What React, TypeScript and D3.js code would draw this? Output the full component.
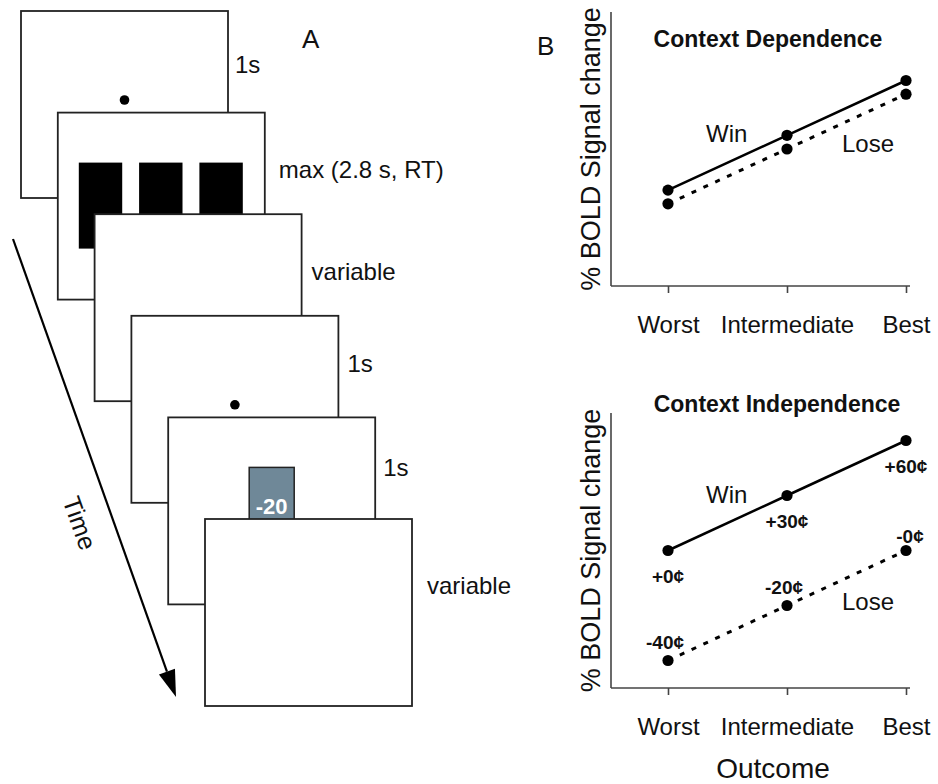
import React, { useEffect, useRef } from 'react';
import * as d3 from 'd3';

// panel A: the trial sequence
const screenDurations = ["1s", "max (2.8 s, RT)", "variable", "1s", "1s", "variable"];
const screenContents = ["fixation", "choice", "blank", "fixation", "outcome", "blank"];
const choiceBoxes = [0, 1, 2];
const outcomeValue = "-20";

// panel B: BOLD response by outcome
const categories = ["Worst", "Intermediate", "Best"];
const dependenceWin = [0.35, 0.55, 0.75];
const dependenceLose = [0.30, 0.50, 0.70];
const independenceWin = [0.50, 0.70, 0.90];
const independenceLose = [0.10, 0.30, 0.50];
const winAmounts = ["+0¢", "+30¢", "+60¢"];
const loseAmounts = ["-40¢", "-20¢", "-0¢"];

// label placement next to each screen (dx from right edge, dy from top)
const durationOffsets = [[7, 62], [14, 65], [10, 66], [9, 56], [8, 59], [15, 75]];

const FONT = "'Liberation Sans', Arial, Helvetica, sans-serif";

const App = () => {
    const svgRef = useRef<SVGSVGElement>(null);

    useEffect(() => {
        const width = 938;
        const height = 784;

        d3.select(svgRef.current).selectAll("*").remove();

        const svg = d3.select(svgRef.current)
            .attr("width", width)
            .attr("height", height)
            .attr("viewBox", `0 0 ${width} ${height}`)
            .style("font-family", FONT);

        svg.append("rect").attr("width", width).attr("height", height).attr("fill", "#fff");

        // ---------- Panel A ----------
        const screenW = 207;
        const screenH = 187;
        const sx = d3.scaleLinear().domain([0, screenDurations.length - 1]).range([21, 205]);
        const sy = d3.scaleLinear().domain([0, screenDurations.length - 1]).range([11, 519]);
        const boxX = d3.scaleBand<number>().domain(choiceBoxes).range([21, 185]).paddingInner(0.28);

        screenDurations.forEach((label, i) => {
            const g = svg.append("g").attr("transform", `translate(${sx(i)},${sy(i)})`);
            g.append("rect")
                .attr("width", screenW)
                .attr("height", screenH)
                .attr("fill", "#fff")
                .attr("stroke", "#222")
                .attr("stroke-width", 1.8);

            const kind = screenContents[i];
            if (kind === "fixation") {
                g.append("circle").attr("cx", screenW / 2).attr("cy", 89).attr("r", 4.8).attr("fill", "#000");
            } else if (kind === "choice") {
                choiceBoxes.forEach(b => {
                    g.append("rect")
                        .attr("x", boxX(b)!)
                        .attr("y", 50)
                        .attr("width", boxX.bandwidth())
                        .attr("height", 86)
                        .attr("fill", "#000");
                });
            } else if (kind === "outcome") {
                g.append("rect")
                    .attr("x", 81)
                    .attr("y", 50)
                    .attr("width", 45)
                    .attr("height", 80)
                    .attr("fill", "#6f8898")
                    .attr("stroke", "#222")
                    .attr("stroke-width", 1.5);
                g.append("text")
                    .attr("x", 103.5)
                    .attr("y", 97)
                    .attr("text-anchor", "middle")
                    .attr("fill", "#fff")
                    .attr("font-weight", "bold")
                    .attr("font-size", 22)
                    .text(outcomeValue);
            }

            const [dx, dy] = durationOffsets[i];
            svg.append("text")
                .attr("x", sx(i) + screenW + dx)
                .attr("y", sy(i) + dy)
                .attr("font-size", 24)
                .attr("fill", "#111")
                .text(label);
        });

        // time arrow
        const start: [number, number] = [13, 239];
        const tip: [number, number] = [176, 697];
        const ang = Math.atan2(tip[1] - start[1], tip[0] - start[0]);
        const headLen = 27;
        const headHalf = 8.5;
        const base: [number, number] = [tip[0] - headLen * Math.cos(ang), tip[1] - headLen * Math.sin(ang)];
        svg.append("line")
            .attr("x1", start[0]).attr("y1", start[1])
            .attr("x2", base[0]).attr("y2", base[1])
            .attr("stroke", "#000")
            .attr("stroke-width", 2.2);
        const nx = -Math.sin(ang);
        const ny = Math.cos(ang);
        svg.append("path")
            .attr("d", d3.line()([
                tip,
                [base[0] + nx * headHalf, base[1] + ny * headHalf],
                [base[0] - nx * headHalf, base[1] - ny * headHalf],
            ]) + "Z")
            .attr("fill", "#000");
        svg.append("text")
            .attr("transform", `translate(80,523) rotate(${(ang * 180) / Math.PI})`)
            .attr("y", 9)
            .attr("text-anchor", "middle")
            .attr("font-size", 25)
            .attr("fill", "#111")
            .text("Time");

        svg.append("text").attr("x", 302).attr("y", 48).attr("font-size", 26).attr("fill", "#111").text("A");
        svg.append("text").attr("x", 537).attr("y", 55).attr("font-size", 26).attr("fill", "#111").text("B");

        // ---------- Panel B ----------
        const xLeft = 611;
        const xRight = 910;
        const x = d3.scalePoint<string>().domain(categories).range([668, 906]);

        const drawPanel = (
            top: number,
            bottom: number,
            title: string,
            titleX: number,
            titleY: number,
            win: number[],
            lose: number[],
            labelPos: { win: [number, number]; lose: [number, number] },
            amounts?: { win: string[]; lose: string[] }
        ) => {
            const y = d3.scaleLinear().domain([0, 1]).range([bottom, top]);
            const g = svg.append("g");

            g.append("line")
                .attr("x1", xLeft).attr("x2", xLeft)
                .attr("y1", top).attr("y2", bottom)
                .attr("stroke", "#444").attr("stroke-width", 1.6);
            g.append("line")
                .attr("x1", xLeft).attr("x2", xRight)
                .attr("y1", bottom).attr("y2", bottom)
                .attr("stroke", "#444").attr("stroke-width", 1.6);

            const axis = g.append("g")
                .attr("transform", `translate(0,${bottom})`)
                .call(d3.axisBottom(x).tickSize(7).tickPadding(23).tickSizeOuter(0));
            axis.select(".domain").remove();
            axis.attr("font-size", 24).attr("font-family", FONT);
            axis.selectAll(".tick line").attr("stroke", "#444").attr("stroke-width", 1.6);
            axis.selectAll(".tick text").attr("fill", "#111");

            g.append("text")
                .attr("transform", `translate(600,${(top + bottom) / 2}) rotate(-90)`)
                .attr("text-anchor", "middle")
                .attr("font-size", 27)
                .attr("fill", "#111")
                .text("% BOLD Signal change");

            g.append("text")
                .attr("x", titleX)
                .attr("y", titleY)
                .attr("text-anchor", "middle")
                .attr("font-weight", "bold")
                .attr("font-size", 23)
                .attr("fill", "#111")
                .text(title);

            const line = d3.line<number>()
                .x((_, i) => x(categories[i])!)
                .y(d => y(d));

            g.append("path")
                .attr("d", line(lose))
                .attr("fill", "none")
                .attr("stroke", "#000")
                .attr("stroke-width", 3)
                .attr("stroke-dasharray", "5,8");
            g.append("path")
                .attr("d", line(win))
                .attr("fill", "none")
                .attr("stroke", "#000")
                .attr("stroke-width", 2.5);

            [...win, ...lose].forEach((v, k) => {
                g.append("circle")
                    .attr("cx", x(categories[k % categories.length])!)
                    .attr("cy", y(v))
                    .attr("r", 5.6)
                    .attr("fill", "#000");
            });

            g.append("text").attr("x", labelPos.win[0]).attr("y", labelPos.win[1])
                .attr("font-size", 24).attr("fill", "#111").text("Win");
            g.append("text").attr("x", labelPos.lose[0]).attr("y", labelPos.lose[1])
                .attr("font-size", 24).attr("fill", "#111").text("Lose");

            if (amounts) {
                amounts.win.forEach((t, i) => {
                    g.append("text")
                        .attr("x", x(categories[i])!)
                        .attr("y", y(win[i]) + 32)
                        .attr("text-anchor", "middle")
                        .attr("font-weight", "bold")
                        .attr("font-size", 19)
                        .attr("fill", "#111")
                        .text(t);
                });
                amounts.lose.forEach((t, i) => {
                    g.append("text")
                        .attr("x", x(categories[i])! + (i === 2 ? 4 : -3))
                        .attr("y", y(lose[i]) - (i === 2 ? 8 : 12))
                        .attr("text-anchor", "middle")
                        .attr("font-weight", "bold")
                        .attr("font-size", 19)
                        .attr("fill", "#111")
                        .text(t);
                });
            }
        };

        drawPanel(12, 286, "Context Dependence", 768, 47, dependenceWin, dependenceLose,
            { win: [706, 142], lose: [842, 152] });
        drawPanel(413, 688, "Context Independence", 777, 412, independenceWin, independenceLose,
            { win: [706, 503], lose: [842, 610] },
            { win: winAmounts, lose: loseAmounts });

        svg.append("text")
            .attr("x", 773)
            .attr("y", 778)
            .attr("text-anchor", "middle")
            .attr("font-size", 28)
            .attr("fill", "#111")
            .text("Outcome");
    }, []);

    return (
        <div style={{ position: 'absolute', left: 0, top: 0 }}>
            <svg ref={svgRef}></svg>
        </div>
    );
};

export default App;
